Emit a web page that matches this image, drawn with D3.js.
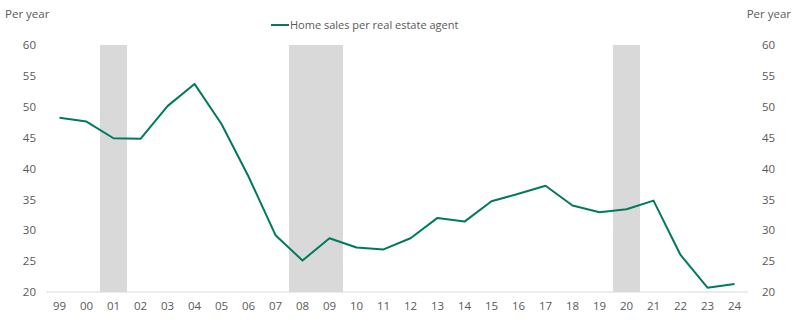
<!DOCTYPE html>
<html><head><meta charset="utf-8">
<script src="https://cdn.jsdelivr.net/npm/d3@7"></script>
<style>body{margin:0;background:#fff}svg{display:block}text{font-family:"Open Sans","Noto Sans",sans-serif;fill:#595959}</style>
</head><body><svg id="c" width="800" height="323"></svg>
<script>
const years = ["99","00","01","02","03","04","05","06","07","08","09","10","11","12","13","14","15","16","17","18","19","20","21","22","23","24"];
const sales = [48.2,47.6,44.9,44.8,50.1,53.7,47.2,38.7,29.2,25.1,28.7,27.2,26.9,28.7,32.0,31.4,34.7,35.9,37.2,34.0,32.9,33.4,34.8,26.0,20.7,21.3];
const recessions = [["01","01"],["08","09"],["20","20"]];
const yTicks = [20,25,30,35,40,45,50,55,60];
const seriesName = "Home sales per real estate agent";
const unitLabel = "Per year";

const svg = d3.select("#c");
const x = d3.scaleBand().domain(years).range([46,748]);
const y = d3.scaleLinear().domain([20,60]).range([292,45]);

svg.selectAll("rect.rec").data(recessions).join("rect")
  .attr("x", d => x(d[0])).attr("width", d => x(d[1]) + x.bandwidth() - x(d[0]))
  .attr("y", y(60)).attr("height", y(20) - y(60)).attr("fill", "#d9d9d9");

svg.append("line").attr("x1",46).attr("x2",748).attr("y1",y(20)).attr("y2",y(20))
  .attr("stroke","#d9d9d9").attr("stroke-width",1);

const fs = "11.5px";
const gx = svg.append("g").attr("transform",`translate(0,${y(20)})`)
  .call(d3.axisBottom(x).tickSize(0).tickPadding(10));
gx.select(".domain").remove();
gx.selectAll("text").style("font-size",fs).attr("fill","#595959");

const gl = svg.append("g").attr("transform","translate(36,0)")
  .call(d3.axisLeft(y).tickValues(yTicks).tickSize(0).tickPadding(0));
gl.select(".domain").remove();
gl.selectAll("text").style("font-size",fs).attr("fill","#595959");

const gr = svg.append("g").attr("transform","translate(762,0)")
  .call(d3.axisRight(y).tickValues(yTicks).tickSize(0).tickPadding(0));
gr.select(".domain").remove();
gr.selectAll("text").style("font-size",fs).attr("fill","#595959");

svg.append("text").attr("x",5).attr("y",18).style("font-size",fs).text(unitLabel);
svg.append("text").attr("x",791).attr("y",18).attr("text-anchor","end").style("font-size",fs).text(unitLabel);

const line = d3.line().x((d,i) => x(years[i]) + x.bandwidth()/2).y(d => y(d));
svg.append("path").datum(sales).attr("d", line).attr("fill","none")
  .attr("stroke","#007a5e").attr("stroke-width",2).attr("stroke-linejoin","round");

svg.append("line").attr("x1",271).attr("x2",289).attr("y1",25).attr("y2",25)
  .attr("stroke","#007a5e").attr("stroke-width",2);
svg.append("text").attr("x",290).attr("y",29).style("font-size","11px").text(seriesName);
</script></body></html>
